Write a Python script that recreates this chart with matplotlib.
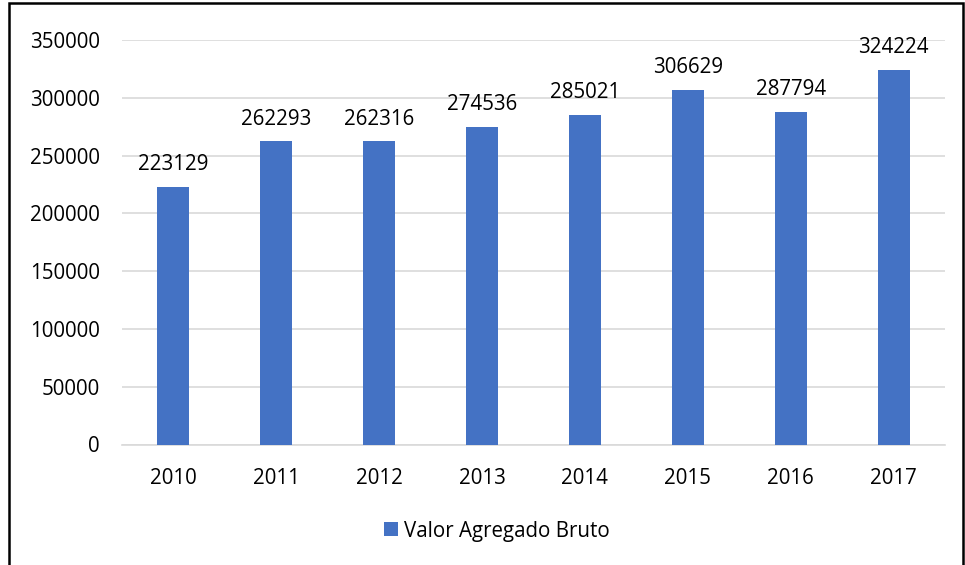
import matplotlib
matplotlib.use("Agg")
import matplotlib.pyplot as plt
from matplotlib.patches import Rectangle
import numpy as np

years = ["2010", "2011", "2012", "2013", "2014", "2015", "2016", "2017"]
values = [223129, 262293, 262316, 274536, 285021, 306629, 287794, 324224]
yticks = [0, 50000, 100000, 150000, 200000, 250000, 300000, 350000]
series_name = "Valor Agregado Bruto"

plt.rcParams['font.family'] = ['Open Sans', 'DejaVu Sans']
FS = 14.8
W, H = 965, 565
fig = plt.figure(figsize=(W/100, H/100), dpi=100)
ax = fig.add_axes([122/W, 1-444.5/H, (945-122)/W, (444.5-40)/H])

x = np.arange(len(years))
bars = ax.bar(x, values, width=0.31, color="#4472C4", zorder=3, label=series_name)
for xi, v in zip(x, values):
    ax.annotate(str(v), (xi, v), xytext=(0, 16), textcoords="offset points",
                ha="center", va="center", fontsize=FS, color="#000000")

ax.set_xlim(-0.5, len(years) - 0.5)
ax.set_ylim(0, 350000)
ax.set_yticks(yticks)
ax.set_yticklabels([str(t) for t in yticks], fontsize=FS)
ax.set_xticks(x)
ax.set_xticklabels(years, fontsize=FS)
ax.grid(axis="y", color="#D9D9D9", linewidth=1.2, zorder=0)
for s in ["top", "right", "left"]:
    ax.spines[s].set_visible(False)
ax.spines["bottom"].set_color("#D9D9D9")
ax.spines["bottom"].set_linewidth(1.2)
ax.tick_params(axis="x", length=0, pad=17)
ax.tick_params(axis="y", length=0, pad=16)

fig.legend(handles=[bars], labels=[series_name], loc="center", bbox_to_anchor=(497/W, 1-531/H),
           frameon=False, fontsize=FS, handlelength=0.65, handleheight=0.65, handletextpad=0.3)

fig.patches.append(Rectangle((8.5/W, -0.05), (963-8.5)/W, 1.05 - 3/H, transform=fig.transFigure,
                             fill=False, edgecolor="black", linewidth=1.8))

fig.savefig("out.png", dpi=100)
